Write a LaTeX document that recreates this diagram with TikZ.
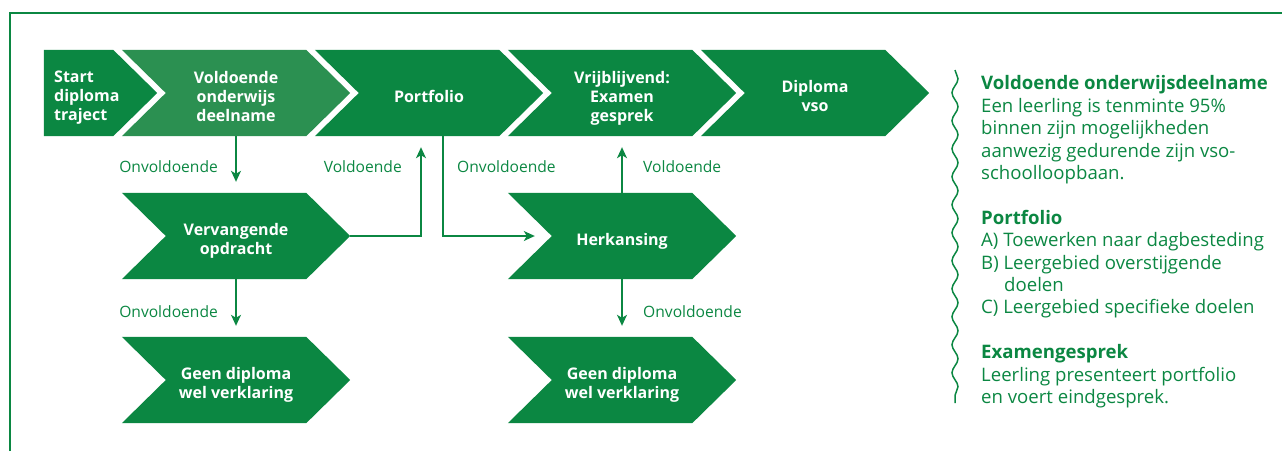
\documentclass[tikz,border=0pt]{standalone}
\usepackage{fontspec}
\setmainfont{Open Sans}
\usetikzlibrary{arrows.meta,decorations.pathmorphing}
\definecolor{dg}{HTML}{0B8742}
\definecolor{lg}{HTML}{2B9051}
\tikzset{
  body/.style={rectangle, minimum width=140pt, minimum height=86pt, inner sep=0pt},
  chevtext/.style={text=white, font=\bfseries\fontsize{16}{19}\selectfont, align=center, inner sep=0pt},
  lbl/.style={text=dg, font=\fontsize{15.6}{18}\selectfont, inner sep=0pt},
  conn/.style={draw=dg, line width=1.4pt, -{Stealth[length=11pt,width=10pt,inset=3pt]}, shorten >=11pt},
  frameline/.style={draw=dg, line width=1.5pt},
  wavy/.style={draw=dg, line width=1.5pt, decorate, decoration={snake, amplitude=3pt, segment length=28pt}},
  desctext/.style={text=dg, font=\fontsize{18.6}{22.4}\selectfont, align=left, inner sep=0pt},
}
\newcommand\chevfill[2]{\fill[#2] ([xshift=-44pt]#1.north west) -- (#1.north east) -- ([xshift=44pt]#1.east) -- (#1.south east) -- ([xshift=-44pt]#1.south west) -- (#1.west) -- cycle;}

\begin{document}
\begin{tikzpicture}[x=1pt,y=-1pt]
\useasboundingbox (0,0) rectangle (1282,451);
\draw[frameline] (10,451) -- (10,13) -- (1282,13);

% bodies
\node[body, minimum width=69pt] (c1) at (78.5,93) {};
\node[body] (c2) at (236,93) {};
\node[body] (c3) at (429,93) {};
\node[body] (c4) at (622,93) {};
\node[body] (c5) at (815,93) {};
\node[body] (verv) at (236,236) {};
\node[body] (herk) at (622,236) {};
\node[body] (gd1) at (236,380) {};
\node[body] (gd2) at (622,380) {};

% fills
\fill[dg] (c1.north west) -- (c1.north east) -- ([xshift=44pt]c1.east) -- (c1.south east) -- (c1.south west) -- cycle;
\chevfill{c2}{lg}
\chevfill{c3}{dg}
\chevfill{c4}{dg}
\chevfill{c5}{dg}
\chevfill{verv}{dg}
\chevfill{herk}{dg}
\chevfill{gd1}{dg}
\chevfill{gd2}{dg}

% texts
\node[chevtext, align=left, anchor=west] (t1) at (54,98) {Start\\diploma\\traject};
\node[chevtext] (t2) at ([yshift=-3pt]c2.center) {Voldoende\\onderwijs\\deelname};
\node[chevtext] (t3) at ([yshift=-3pt]c3.center) {Portfolio};
\node[chevtext] (t4) at ([yshift=-5pt]c4.center) {Vrijblijvend:\\Examen\\gesprek};
\node[chevtext] (t5) at ([yshift=-3pt]c5.center) {Diploma\\vso};
\node[chevtext] (t6) at ([yshift=-5pt]verv.center) {Vervangende\\opdracht};
\node[chevtext] (t7) at ([yshift=-5pt]herk.center) {Herkansing};
\node[chevtext] (t8) at ([yshift=-5pt]gd1.center) {Geen diploma\\wel verklaring};
\node[chevtext] (t9) at ([yshift=-5pt]gd2.center) {Geen diploma\\wel verklaring};

% connectors
\draw[conn] (c2.south) -- (verv.north);
\draw[conn] (verv.south) -- (gd1.north);
\coordinate (vtip) at ([xshift=44pt]verv.east);
\draw[conn] (vtip) -| ([xshift=-8pt]c3.south);
\draw[conn, shorten >=17pt] ([xshift=14pt]c3.south) |- (herk.west);
\draw[conn] (herk.north) -- (c4.south);
\draw[conn] (herk.south) -- (gd2.north);

% labels
\node[lbl, anchor=east] (l1) at (218,167) {Onvoldoende};
\node[lbl, anchor=east] (l2) at (218,312) {Onvoldoende};
\node[lbl, anchor=east] (l3) at (402,167) {Voldoende};
\node[lbl, anchor=west] (l4) at (457,167) {Onvoldoende};
\node[lbl, anchor=west] (l5) at (643,167) {Voldoende};
\node[lbl, anchor=west] (l6) at (643,312) {Onvoldoende};

% right side
\draw[wavy] (955,70) -- (955,403);
\node[desctext, anchor=north west] (desc) at (981,75.5) {\textbf{Voldoende onderwijsdeelname}\\
Een leerling is tenminte 95\%\\
binnen zijn mogelijkheden\\
aanwezig gedurende zijn vso-\\
schoolloopbaan.\\[22.4pt]
\textbf{Portfolio}\\
A) Toewerken naar dagbesteding\\
B) Leergebied overstijgende\\
\hspace*{23pt}doelen\\
C) Leergebied specifieke doelen\\[22.4pt]
\textbf{Examengesprek}\\
Leerling presenteert portfolio\\
en voert eindgesprek.};
\end{tikzpicture}
\end{document}
